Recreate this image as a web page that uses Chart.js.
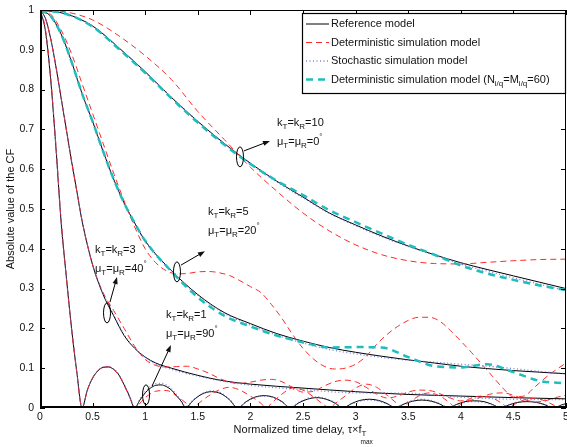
<!DOCTYPE html>
<html>
<head>
<meta charset="utf-8">
<script src="https://cdn.jsdelivr.net/npm/chart.js@4.4.1/dist/chart.umd.min.js"></script>
<style>
body { margin: 0; background: #fff; }
</style>
</head>
<body>
<canvas id="cfChart" width="567" height="447"></canvas>
<script>
// axis ticks
var xTicks = [0, 0.5, 1, 1.5, 2, 2.5, 3, 3.5, 4, 4.5, 5];
var yTicks = [0, 0.1, 0.2, 0.3, 0.4, 0.5, 0.6, 0.7, 0.8, 0.9, 1];

// kT=kR=10, muT=muR=0
var tau10 = [0, 0.25, 0.5, 0.75, 1, 1.25, 1.5, 1.75, 2, 2.25, 2.5, 2.75, 3, 3.25, 3.5, 3.75, 4, 4.25, 4.5, 4.75, 5];
var ref10 = [1.0, 0.99, 0.96, 0.905, 0.845, 0.78, 0.72, 0.665, 0.615, 0.57, 0.53, 0.49, 0.46, 0.432, 0.407, 0.385, 0.365, 0.348, 0.332, 0.316, 0.30];
var det10 = [1.0, 0.995, 0.975, 0.935, 0.885, 0.825, 0.745, 0.675, 0.605, 0.545, 0.49, 0.445, 0.41, 0.385, 0.37, 0.363, 0.362, 0.366, 0.37, 0.373, 0.374];
var sto10 = [1.0, 0.99, 0.958, 0.903, 0.843, 0.781, 0.72, 0.664, 0.613, 0.568, 0.528, 0.489, 0.458, 0.43, 0.406, 0.384, 0.362, 0.344, 0.327, 0.311, 0.295];
var det60_10 = [1.0, 0.99, 0.958, 0.902, 0.842, 0.778, 0.717, 0.662, 0.613, 0.571, 0.535, 0.497, 0.467, 0.438, 0.41, 0.385, 0.358, 0.338, 0.322, 0.308, 0.296];

// kT=kR=5, muT=muR=20
var tau5 = [0, 0.1, 0.2, 0.3, 0.4, 0.5, 0.6, 0.7, 0.8, 0.9, 1, 1.25, 1.5, 1.75, 2, 2.25, 2.5, 2.75, 3, 3.25, 3.5, 3.75, 4, 4.25, 4.5, 4.75, 5];
var ref5 = [1.0, 0.985, 0.94, 0.87, 0.79, 0.72, 0.645, 0.575, 0.515, 0.465, 0.42, 0.345, 0.285, 0.24, 0.212, 0.187, 0.168, 0.152, 0.14, 0.13, 0.121, 0.113, 0.105, 0.099, 0.094, 0.09, 0.086];
var sto5 = [1.0, 0.984, 0.938, 0.868, 0.79, 0.718, 0.643, 0.573, 0.513, 0.463, 0.418, 0.343, 0.283, 0.238, 0.208, 0.183, 0.163, 0.147, 0.136, 0.127, 0.12, 0.115, 0.11, 0.105, 0.099, 0.092, 0.086];
var det60_5 = [1.0, 0.985, 0.94, 0.87, 0.79, 0.72, 0.645, 0.575, 0.515, 0.465, 0.42, 0.343, 0.278, 0.232, 0.205, 0.182, 0.165, 0.152, 0.153, 0.152, 0.128, 0.105, 0.102, 0.11, 0.09, 0.068, 0.062];
var tauDet5 = [0, 0.1, 0.2, 0.3, 0.4, 0.5, 0.6, 0.7, 0.8, 0.9, 1, 1.1, 1.2, 1.3, 1.4, 1.5, 1.6, 1.7, 1.8, 1.9, 2, 2.1, 2.2, 2.3, 2.4, 2.5, 2.6, 2.7, 2.8, 2.9, 3, 3.1, 3.2, 3.3, 3.4, 3.5, 3.6, 3.7, 3.8, 3.9, 4, 4.1, 4.2, 4.3, 4.4, 4.5, 4.6, 4.7, 4.8, 4.9, 5];
var det5 = [1.0, 0.99, 0.95, 0.89, 0.815, 0.74, 0.665, 0.59, 0.52, 0.455, 0.40, 0.365, 0.345, 0.337, 0.338, 0.342, 0.343, 0.34, 0.333, 0.32, 0.305, 0.29, 0.26, 0.225, 0.185, 0.15, 0.123, 0.105, 0.098, 0.1, 0.11, 0.13, 0.16, 0.185, 0.205, 0.22, 0.228, 0.228, 0.218, 0.195, 0.168, 0.14, 0.11, 0.08, 0.05, 0.028, 0.03, 0.052, 0.075, 0.095, 0.113];

// kT=kR=3, muT=muR=40
var tau3 = [0, 0.05, 0.1, 0.15, 0.2, 0.25, 0.3, 0.35, 0.4, 0.5, 0.6, 0.7, 0.8, 0.9, 1, 1.1, 1.25, 1.5, 1.75, 2, 2.5, 3, 3.5, 4, 4.5, 5];
var ref3 = [1.0, 0.98, 0.93, 0.86, 0.78, 0.7, 0.62, 0.545, 0.47, 0.36, 0.285, 0.232, 0.182, 0.15, 0.128, 0.113, 0.1, 0.082, 0.068, 0.06, 0.05, 0.041, 0.034, 0.03, 0.026, 0.023];
var sto3 = [1.0, 0.98, 0.93, 0.86, 0.78, 0.7, 0.62, 0.545, 0.47, 0.36, 0.287, 0.234, 0.184, 0.151, 0.127, 0.11, 0.097, 0.08, 0.067, 0.057, 0.046, 0.038, 0.037, 0.027, 0.022, 0.021];
var tauDet3 = [0, 0.05, 0.1, 0.15, 0.2, 0.25, 0.3, 0.35, 0.4, 0.5, 0.6, 0.7, 0.8, 0.9, 1, 1.1, 1.2, 1.3, 1.4, 1.5, 1.6, 1.7, 1.8, 1.9, 2, 2.1, 2.2, 2.3, 2.4, 2.5, 2.6, 2.7, 2.8, 2.9, 3, 3.1, 3.2, 3.3, 3.4, 3.5, 3.6, 3.7, 3.8, 3.9, 4, 4.1, 4.2, 4.3, 4.4, 4.5, 4.6, 4.7, 4.8, 4.9, 5];
var det3 = [1.0, 0.98, 0.93, 0.86, 0.78, 0.7, 0.62, 0.545, 0.47, 0.36, 0.29, 0.245, 0.2, 0.155, 0.122, 0.107, 0.103, 0.104, 0.105, 0.098, 0.088, 0.075, 0.065, 0.062, 0.065, 0.07, 0.072, 0.066, 0.052, 0.04, 0.042, 0.055, 0.066, 0.07, 0.066, 0.052, 0.035, 0.025, 0.03, 0.04, 0.045, 0.044, 0.036, 0.025, 0.018, 0.02, 0.028, 0.036, 0.038, 0.032, 0.022, 0.015, 0.018, 0.026, 0.032];

// kT=kR=1, muT=muR=90
var tau1 = [0, 0.05, 0.1, 0.15, 0.2, 0.25, 0.3, 0.35, 0.4, 0.45, 0.5, 0.55, 0.6, 0.65, 0.7, 0.75, 0.8, 0.85, 0.9, 0.95, 1, 1.05, 1.1, 1.15, 1.2, 1.25, 1.3, 1.35, 1.38,
    1.46, 1.54, 1.63, 1.72, 1.8, 1.88, 1.96, 2.04, 2.13, 2.22, 2.3, 2.38, 2.46, 2.54, 2.63, 2.72, 2.8, 2.88,
    2.96, 3.04, 3.13, 3.22, 3.3, 3.38, 3.46, 3.54, 3.63, 3.72, 3.8, 3.88, 3.96, 4.04, 4.13, 4.22, 4.3, 4.38,
    4.46, 4.54, 4.63, 4.72, 4.8, 4.88, 4.96, 5];
var ref1 = [1.0, 0.95, 0.83, 0.66, 0.47, 0.33, 0.2, 0.09, 0.0, 0.045, 0.075, 0.093, 0.102, 0.103, 0.097, 0.083, 0.058, 0.03, 0.0, 0.02, 0.038, 0.05, 0.057, 0.058, 0.054, 0.045, 0.03, 0.014, 0.0,
    0.02, 0.035, 0.041, 0.036, 0.021, 0.0, 0.016, 0.027, 0.031, 0.027, 0.016, 0.0, 0.013, 0.022, 0.026, 0.022, 0.013, 0.0,
    0.011, 0.019, 0.022, 0.019, 0.011, 0.0, 0.01, 0.017, 0.02, 0.017, 0.01, 0.0, 0.009, 0.016, 0.018, 0.016, 0.009, 0.0,
    0.008, 0.014, 0.016, 0.014, 0.008, 0.0, 0.008, 0.011];
var sto1 = [1.0, 0.95, 0.83, 0.66, 0.47, 0.33, 0.2, 0.09, 0.0, 0.046, 0.076, 0.094, 0.103, 0.104, 0.098, 0.084, 0.059, 0.031, 0.002, 0.022, 0.041, 0.054, 0.061, 0.062, 0.058, 0.048, 0.033, 0.016, 0.003,
    0.021, 0.036, 0.043, 0.038, 0.022, 0.002, 0.015, 0.026, 0.03, 0.026, 0.015, 0.002, 0.014, 0.024, 0.028, 0.024, 0.014, 0.002,
    0.01, 0.017, 0.02, 0.017, 0.01, 0.002, 0.011, 0.019, 0.022, 0.019, 0.011, 0.002, 0.008, 0.014, 0.016, 0.014, 0.008, 0.002,
    0.009, 0.015, 0.017, 0.015, 0.009, 0.002, 0.007, 0.01];
var tauDet1 = [0, 0.05, 0.1, 0.15, 0.2, 0.25, 0.3, 0.35, 0.4, 0.45, 0.5, 0.55, 0.6, 0.65, 0.7, 0.75, 0.8, 0.85, 0.9,
    0.95, 1, 1.1, 1.2, 1.3, 1.4, 1.45, 1.5, 1.6, 1.7, 1.8, 1.9, 2, 2.1, 2.15, 2.2, 2.3, 2.4, 2.5, 2.6, 2.7, 2.75,
    2.8, 2.9, 3, 3.1, 3.2, 3.3, 3.4, 3.45, 3.5, 3.6, 3.7, 3.8, 3.9, 3.95, 4, 4.1, 4.2, 4.3, 4.4, 4.45,
    4.5, 4.6, 4.7, 4.8, 4.9, 4.95, 5];
var det1 = [1.0, 0.955, 0.835, 0.665, 0.475, 0.33, 0.2, 0.09, 0.0, 0.045, 0.076, 0.094, 0.103, 0.104, 0.097, 0.082, 0.057, 0.028, 0.0,
    0.012, 0.026, 0.042, 0.044, 0.03, 0.01, 0.0, 0.01, 0.03, 0.045, 0.052, 0.045, 0.03, 0.012, 0.0, 0.012, 0.035, 0.05, 0.045, 0.028, 0.008, 0.0,
    0.01, 0.03, 0.05, 0.06, 0.052, 0.032, 0.01, 0.0, 0.012, 0.03, 0.038, 0.03, 0.012, 0.0, 0.01, 0.025, 0.03, 0.025, 0.01, 0.0,
    0.008, 0.02, 0.024, 0.018, 0.005, 0.0, 0.01];

var FONT = '"Liberation Sans", Arial, Helvetica, sans-serif';

var styles = {
    ref: { borderColor: '#000000', borderWidth: 1, borderDash: [], order: 3 },
    det: { borderColor: '#ff2a2a', borderWidth: 1, borderDash: [6, 4], order: 2 },
    sto: { borderColor: 'rgba(80,95,215,0.8)', borderWidth: 1.3, borderDash: [1, 2.5], order: 1 },
    det60: { borderColor: '#20bdbd', borderWidth: 2.5, borderDash: [7, 5], order: 0 }
};

function series(kind, xs, ys) {
    var st = styles[kind];
    return {
        data: xs.map(function (v, i) { return { x: v, y: ys[i] }; }),
        borderColor: st.borderColor,
        borderWidth: st.borderWidth,
        borderDash: st.borderDash,
        order: st.order,
        fill: false,
        pointRadius: 0,
        cubicInterpolationMode: 'monotone'
    };
}

var datasets = [
    series('ref', tau10, ref10), series('ref', tau5, ref5), series('ref', tau3, ref3), series('ref', tau1, ref1),
    series('det', tau10, det10), series('det', tauDet5, det5), series('det', tauDet3, det3), series('det', tauDet1, det1),
    series('sto', tau10, sto10), series('sto', tau5, sto5), series('sto', tau3, sto3), series('sto', tau1, sto1),
    series('det60', tau10, det60_10), series('det60', tau5, det60_5)
];

var legendRows = [
    ['ref', [['Reference model']]],
    ['det', [['Deterministic simulation model']]],
    ['sto', [['Stochastic simulation model']]],
    ['det60', [['Deterministic simulation model (N'], ['i/q', 'sub'], ['=M'], ['i/q', 'sub'], ['=60)']]]
];

// callouts: text anchor, ellipse on the curve, arrow
var notes = [
    { at: [2.253, 0.716], ring: [1.901, 0.631], from: [1.939, 0.646], to: [2.186, 0.671],
      lines: [[['k'], ['T', 'sub'], ['=k'], ['R', 'sub'], ['=10']], [['\u03bc'], ['T', 'sub'], ['=\u03bc'], ['R', 'sub'], ['=0'], ['\u00b0', 'sup']]] },
    { at: [1.597, 0.4925], ring: [1.302, 0.342], from: [1.340, 0.359], to: [1.568, 0.394],
      lines: [[['k'], ['T', 'sub'], ['=k'], ['R', 'sub'], ['=5']], [['\u03bc'], ['T', 'sub'], ['=\u03bc'], ['R', 'sub'], ['=20'], ['\u00b0', 'sup']]] },
    { at: [0.523, 0.397], ring: [0.637, 0.239], from: [0.665, 0.266], to: [0.732, 0.329],
      lines: [[['k'], ['T', 'sub'], ['=k'], ['R', 'sub'], ['=3']], [['\u03bc'], ['T', 'sub'], ['=\u03bc'], ['R', 'sub'], ['=40'], ['\u00b0', 'sup']]] },
    { at: [1.198, 0.234], ring: [1.008, 0.033], from: [1.065, 0.055], to: [1.245, 0.158],
      lines: [[['k'], ['T', 'sub'], ['=k'], ['R', 'sub'], ['=1']], [['\u03bc'], ['T', 'sub'], ['=\u03bc'], ['R', 'sub'], ['=90'], ['\u00b0', 'sup']]] }
];

function rich(ctx, x, y, parts) {
    parts.forEach(function (p) {
        var kind = p[1];
        ctx.font = (kind ? 8 : 11) + 'px ' + FONT;
        var dy = kind === 'sub' ? 4 : (kind === 'sup' ? -5 : 0);
        ctx.fillText(p[0], x, y + dy);
        x += ctx.measureText(p[0]).width;
    });
    return x;
}

function arrow(ctx, x0, y0, x1, y1) {
    var ang = Math.atan2(y1 - y0, x1 - x0);
    ctx.beginPath();
    ctx.moveTo(x0, y0);
    ctx.lineTo(x1 - 5 * Math.cos(ang), y1 - 5 * Math.sin(ang));
    ctx.stroke();
    ctx.beginPath();
    ctx.moveTo(x1, y1);
    ctx.lineTo(x1 - 7 * Math.cos(ang) + 2.6 * Math.sin(ang), y1 - 7 * Math.sin(ang) - 2.6 * Math.cos(ang));
    ctx.lineTo(x1 - 7 * Math.cos(ang) - 2.6 * Math.sin(ang), y1 - 7 * Math.sin(ang) + 2.6 * Math.cos(ang));
    ctx.closePath();
    ctx.fill();
}

var decor = {
    id: 'decor',
    afterDraw: function (chart) {
        var ctx = chart.ctx, a = chart.chartArea;
        var sx = chart.scales.x, sy = chart.scales.y;
        ctx.save();
        ctx.strokeStyle = '#000';
        ctx.fillStyle = '#111';
        ctx.setLineDash([]);

        // axes box, inward ticks
        ctx.lineWidth = 1;
        ctx.strokeRect(a.left + 0.5, a.top + 0.5, a.right - a.left - 1, a.bottom - a.top - 1);
        ctx.lineWidth = 2;
        ctx.beginPath();
        ctx.moveTo(a.left + 1, a.top);
        ctx.lineTo(a.left + 1, a.bottom - 1);
        ctx.lineTo(a.right, a.bottom - 1);
        ctx.stroke();
        ctx.lineWidth = 1;
        ctx.beginPath();
        xTicks.forEach(function (v) {
            var px = Math.round(sx.getPixelForValue(v)) + 0.5;
            ctx.moveTo(px, a.bottom); ctx.lineTo(px, a.bottom - 5);
            ctx.moveTo(px, a.top); ctx.lineTo(px, a.top + 5);
        });
        yTicks.forEach(function (v) {
            var py = Math.round(sy.getPixelForValue(v)) + 0.5;
            ctx.moveTo(a.left, py); ctx.lineTo(a.left + 5, py);
            ctx.moveTo(a.right, py); ctx.lineTo(a.right - 5, py);
        });
        ctx.stroke();

        // legend
        var lw = 264, lh = 81;
        var lx = a.right - lw, ly = a.top + 3;
        ctx.fillStyle = '#fff';
        ctx.fillRect(lx, ly, lw, lh);
        ctx.strokeStyle = '#000';
        ctx.lineWidth = 1.2;
        ctx.strokeRect(lx + 0.5, ly + 0.5, lw - 1, lh - 1);
        ctx.textBaseline = 'middle';
        ctx.textAlign = 'left';
        legendRows.forEach(function (row, i) {
            var st = styles[row[0]];
            var ry = ly + 11 + i * 18.5;
            ctx.strokeStyle = st.borderColor;
            ctx.lineWidth = st.borderWidth;
            ctx.setLineDash(st.borderDash);
            ctx.beginPath();
            ctx.moveTo(lx + 4, ry);
            ctx.lineTo(lx + 27, ry);
            ctx.stroke();
            ctx.setLineDash([]);
            ctx.fillStyle = '#111';
            rich(ctx, lx + 29, ry, row[1]);
        });

        // callouts
        ctx.strokeStyle = '#000';
        ctx.fillStyle = '#111';
        ctx.lineWidth = 1;
        notes.forEach(function (n) {
            var tx = sx.getPixelForValue(n.at[0]), ty = sy.getPixelForValue(n.at[1]);
            n.lines.forEach(function (ln, i) { rich(ctx, tx, ty + i * 19, ln); });
            ctx.beginPath();
            ctx.ellipse(sx.getPixelForValue(n.ring[0]), sy.getPixelForValue(n.ring[1]), 3.5, 10, 0, 0, Math.PI * 2);
            ctx.stroke();
            arrow(ctx, sx.getPixelForValue(n.from[0]), sy.getPixelForValue(n.from[1]),
                sx.getPixelForValue(n.to[0]), sy.getPixelForValue(n.to[1]));
        });

        // x-axis title with subscripts
        var main = 'Normalized time delay, \u03c4\u00d7f';
        ctx.font = '11px ' + FONT;
        var wMain = ctx.measureText(main).width;
        ctx.font = '8px ' + FONT;
        var wT = ctx.measureText('T').width;
        var x0 = (a.left + a.right) / 2 - (wMain + wT) / 2 - 3;
        var y0 = a.bottom + 22;
        var xT = rich(ctx, x0, y0, [[main]]);
        rich(ctx, xT, y0, [['T', 'sub']]);
        ctx.font = '6.5px ' + FONT;
        ctx.fillText('max', xT - 1, y0 + 12);
        ctx.restore();
    }
};

Chart.defaults.font.family = FONT;
Chart.defaults.color = '#111';

new Chart(document.getElementById('cfChart'), {
    type: 'line',
    data: { datasets: datasets },
    options: {
        responsive: false,
        animation: false,
        devicePixelRatio: 1,
        layout: { padding: { top: 10, right: 1, left: 0, bottom: 0 } },
        plugins: { legend: { display: false }, tooltip: { enabled: false } },
        scales: {
            x: {
                type: 'linear', min: 0, max: 5,
                grid: { display: false, drawTicks: false }, border: { display: false },
                afterBuildTicks: function (s) { s.ticks = xTicks.map(function (v) { return { value: v }; }); },
                ticks: { font: { size: 10.5 }, padding: 3, maxRotation: 0, autoSkip: false,
                    callback: function (v) { return String(v); } },
                afterFit: function (s) { s.height = 39; s.paddingLeft = 0; s.paddingRight = 0; }
            },
            y: {
                type: 'linear', min: 0, max: 1,
                grid: { display: false, drawTicks: false }, border: { display: false },
                afterBuildTicks: function (s) { s.ticks = yTicks.map(function (v) { return { value: v }; }); },
                ticks: { font: { size: 10.5 }, padding: 6, autoSkip: false,
                    callback: function (v) { return String(v); } },
                title: { display: true, text: 'Absolute value of the CF', font: { size: 11 }, padding: { top: 4, bottom: 0 } },
                afterFit: function (s) { s.width = 40; s.paddingTop = 0; s.paddingBottom = 0; }
            }
        }
    },
    plugins: [decor]
});
</script>
</body>
</html>
